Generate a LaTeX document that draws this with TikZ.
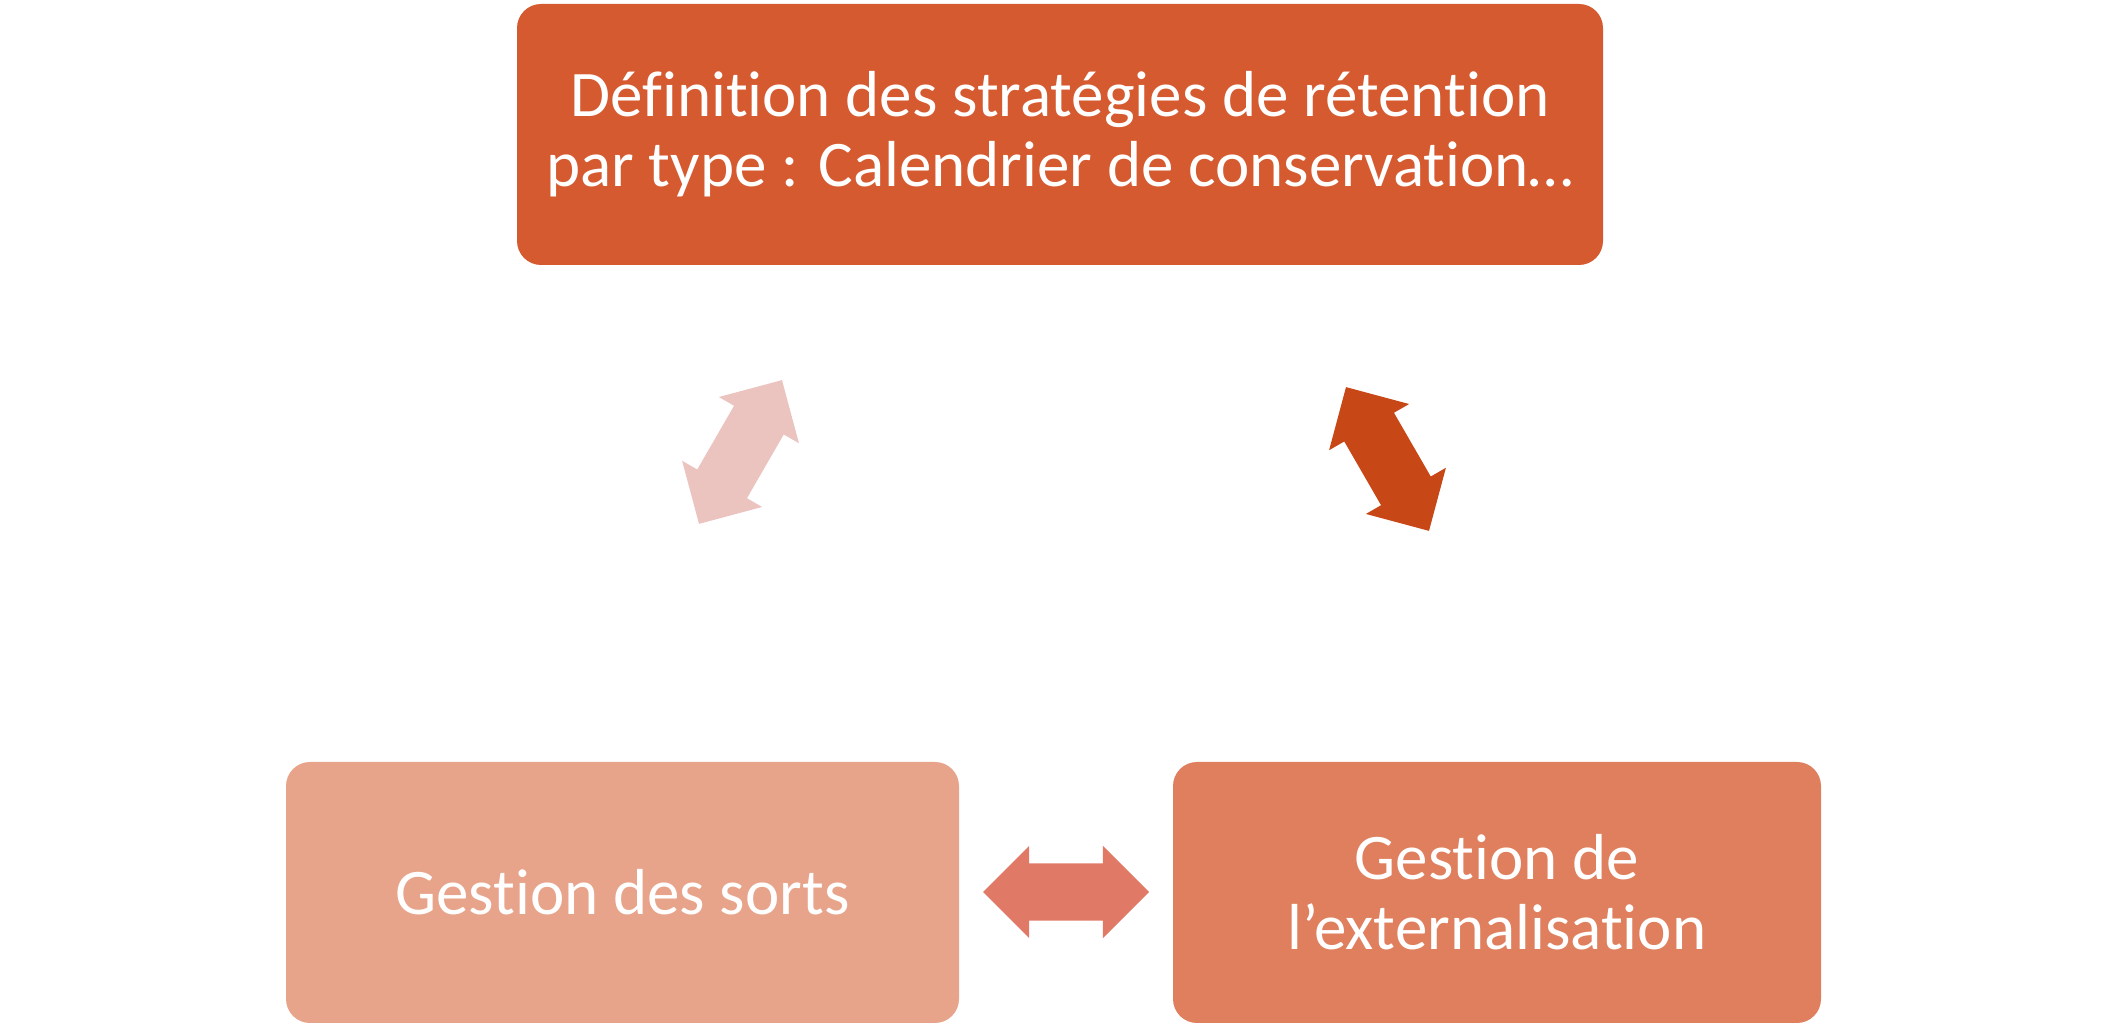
\documentclass[tikz,border=0pt]{standalone}
\usepackage{fontspec}
\setmainfont{Carlito}[Ligatures=NoCommon]
\usepackage{tikz}
\usetikzlibrary{shapes.arrows}
\definecolor{topbox}{HTML}{D65A30}
\definecolor{leftbox}{HTML}{E8A48A}
\definecolor{rightbox}{HTML}{E07F5E}
\definecolor{arrpink}{HTML}{EBC3BF}
\definecolor{arrdark}{HTML}{C84716}
\definecolor{arrmid}{HTML}{E07966}
\tikzset{
	block/.style = {rounded corners=0.24cm, text=white, align=center, inner sep=0pt,
		minimum height=2.61cm, font=\fontsize{18.5}{19.9}\selectfont},
	dblarrow/.style = {double arrow, inner xsep=0pt, inner ysep=0.28cm, minimum height=1.66cm,
		minimum width=0.91cm, double arrow head extend=0.175cm, double arrow tip angle=90}
}

\begin{document}
\begin{tikzpicture}
		\useasboundingbox (0,0) rectangle (21.07,10.28);
		% the three blocks
		\node[block, fill=topbox, minimum width=10.86cm] (strategie) at (10.60,8.935) {D\'efinition des strat\'egies de r\'etention\\par type : Calendrier de conservation\dots};
		\node[block, fill=leftbox, minimum width=6.73cm] (sorts) at (6.225,1.355) {Gestion des sorts};
		\node[block, fill=rightbox, minimum width=6.48cm] (extern) at (14.97,1.355) {Gestion de\\l’externalisation};
		% block arrows between them
		\node[dblarrow, fill=arrpink, rotate=60] (flecheG) at (7.405,5.76) {};
		\node[dblarrow, fill=arrdark, rotate=120] (flecheD) at (13.875,5.69) {};
		\node[dblarrow, fill=arrmid] (flecheB) at (10.66,1.36) {};
	\end{tikzpicture}
\end{document}
